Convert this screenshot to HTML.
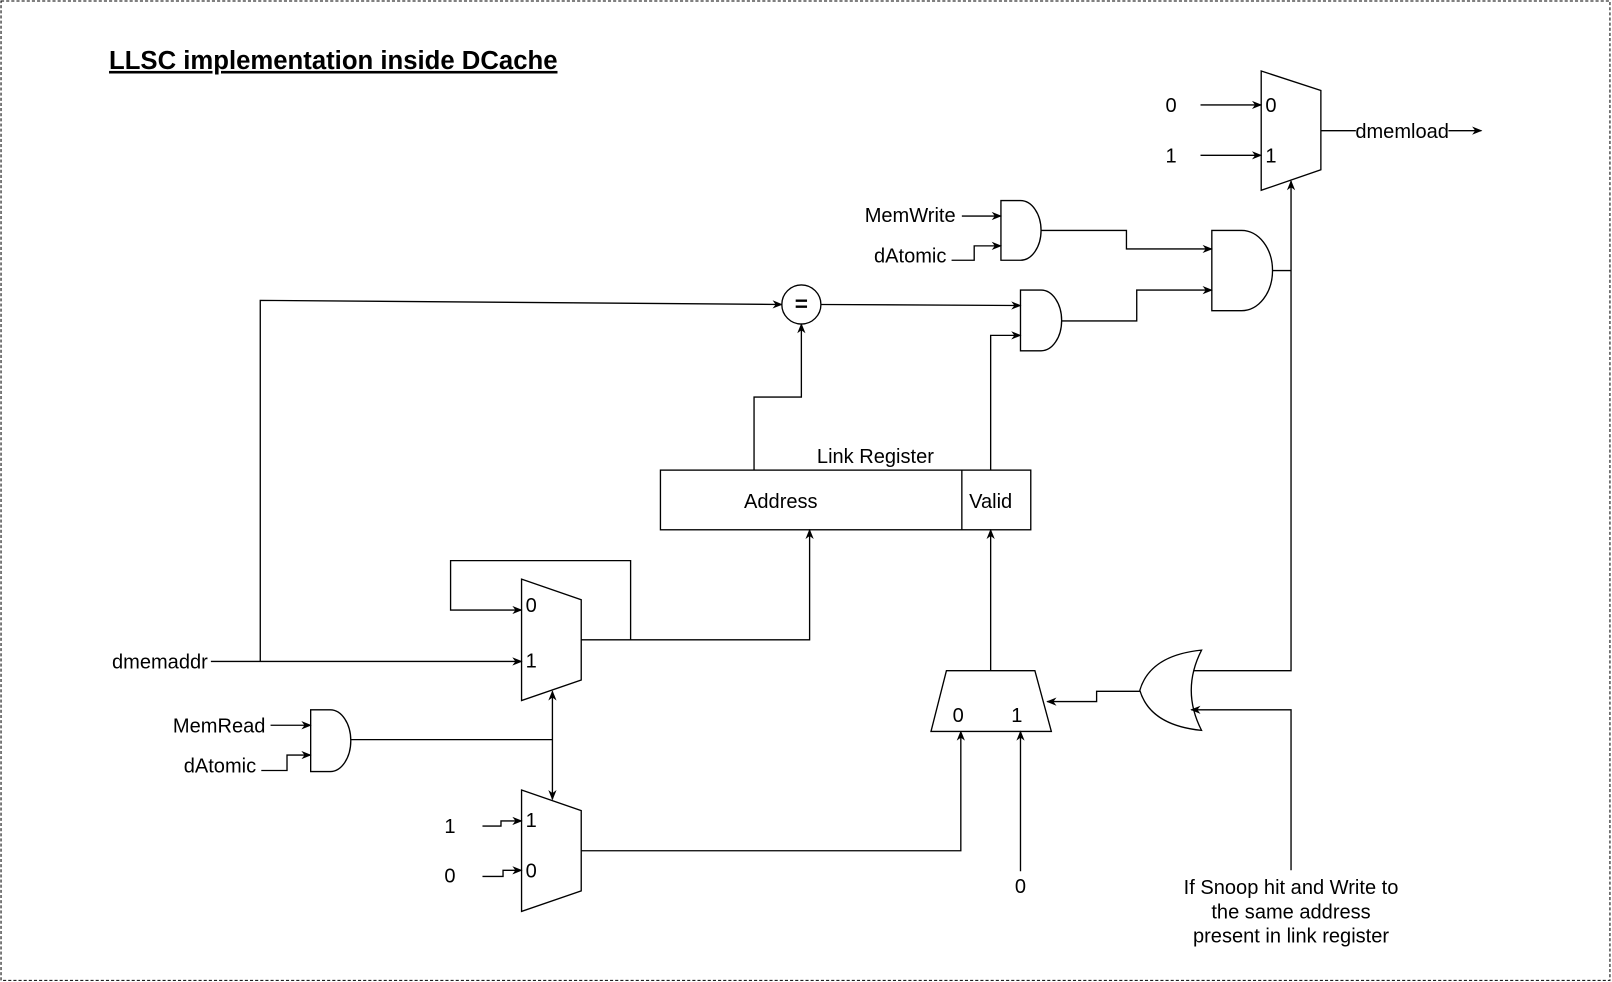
<!DOCTYPE html>
<html><head><meta charset="utf-8"><style>html,body{margin:0;padding:0;background:#fff}svg{display:block}</style></head>
<body>
<svg width="1612" height="982" viewBox="0 0 1567 954.6" preserveAspectRatio="none" xmlns="http://www.w3.org/2000/svg" font-family="Liberation Sans, Arial, sans-serif" font-size="19.5">
<defs>
<marker id="a" viewBox="0 0 10 10" refX="9" refY="5" markerWidth="10" markerHeight="10" markerUnits="userSpaceOnUse" orient="auto-start-reverse"><path d="M0,1 L10,5 L0,9 L3,5 Z" fill="#000"/></marker>
</defs>
<rect x="1" y="1" width="1564" height="952" fill="#fff" stroke="#000" stroke-dasharray="3,2" stroke-width="1"/>
<text x="106" y="67" font-size="25" font-weight="bold" text-decoration="underline">LLSC implementation inside DCache</text>
<g fill="none" stroke="#000" stroke-width="1.3">
<polygon points="1226,69 1284,88 1284,165 1226,185" fill="#fff"/>
<line x1="1167" y1="102" x2="1226" y2="102" marker-end="url(#a)"/>
<line x1="1167" y1="151" x2="1226" y2="151" marker-end="url(#a)"/>
<line x1="1284" y1="127" x2="1318" y2="127"/>
<line x1="1408" y1="127" x2="1440" y2="127" marker-end="url(#a)"/>
<polyline points="1158,652 1255,652 1255,176" marker-end="url(#a)"/>
<line x1="1237" y1="263" x2="1255" y2="263"/>
<path d="M1178,224 H1207 A30,39 0 0 1 1207,302 H1178 Z" fill="#fff"/>
<polyline points="1012,224 1095,224 1095,242 1178,242" marker-end="url(#a)"/>
<polyline points="1032,312 1105,312 1105,282 1178,282" marker-end="url(#a)"/>
<path d="M973,195 H992 A20,29 0 0 1 992,253 H973 Z" fill="#fff"/>
<line x1="935" y1="210" x2="973" y2="210" marker-end="url(#a)"/>
<polyline points="925,253 947,253 947,239 973,239" marker-end="url(#a)"/>
<path d="M992,282 H1012 A20,29.5 0 0 1 1012,341 H992 Z" fill="#fff"/>
<polyline points="798,296 992,297" marker-end="url(#a)"/>
<polyline points="963,457 963,326 992,326" marker-end="url(#a)"/>
<circle cx="779" cy="296" r="19" fill="#fff"/>
<polyline points="253,643 253,292 760,296" marker-end="url(#a)"/>
<polyline points="733,457 733,386 779,386 779,315" marker-end="url(#a)"/>
<rect x="642" y="457" width="360" height="58" fill="#fff"/>
<line x1="935" y1="457" x2="935" y2="515"/>
<polygon points="507,563 565,583 565,661 507,681" fill="#fff"/>
<polyline points="613,622 613,545 438,545 438,593 507,593" marker-end="url(#a)"/>
<polyline points="565,622 787,622 787,515" marker-end="url(#a)"/>
<line x1="205" y1="643" x2="507" y2="643" marker-end="url(#a)"/>
<line x1="537" y1="672" x2="537" y2="777" marker-start="url(#a)" marker-end="url(#a)"/>
<line x1="341" y1="719" x2="537" y2="719"/>
<path d="M302,690 H321 A20,30 0 0 1 321,750 H302 Z" fill="#fff"/>
<line x1="263" y1="705" x2="302" y2="705" marker-end="url(#a)"/>
<polyline points="254,749 279,749 279,734 302,734" marker-end="url(#a)"/>
<polygon points="507,768 565,788 565,866 507,886" fill="#fff"/>
<polyline points="469,803 487,803 487,798 507,798" marker-end="url(#a)"/>
<polyline points="469,852 489,852 489,846 507,846" marker-end="url(#a)"/>
<polyline points="565,827 934,827 934,711" marker-end="url(#a)"/>
<polygon points="920,652 1006,652 1022,711 905,711" fill="#fff"/>
<line x1="963" y1="652" x2="963" y2="515" marker-end="url(#a)"/>
<line x1="992" y1="847" x2="992" y2="711" marker-end="url(#a)"/>
<polyline points="1108,672 1066,672 1066,682 1018,682" marker-end="url(#a)"/>
<path d="M1168,632 Q1148,671 1168,710 Q1118,705 1108,671 Q1118,637 1168,632 Z" fill="#fff"/>
<polyline points="1255,846 1255,690 1158,690" marker-end="url(#a)"/>
</g>
<g fill="#000">
<text x="1230" y="109">0</text><text x="1230" y="158">1</text>
<text x="1133" y="109">0</text><text x="1133" y="158">1</text>
<text x="1363" y="134" text-anchor="middle">dmemload</text>
<text x="929" y="216" text-anchor="end">MemWrite</text>
<text x="920" y="255" text-anchor="end">dAtomic</text>
<text x="779" y="303" text-anchor="middle" font-weight="bold" font-size="22">=</text>
<text x="851" y="450" text-anchor="middle">Link Register</text>
<text x="759" y="494" text-anchor="middle">Address</text>
<text x="963" y="494" text-anchor="middle">Valid</text>
<text x="511" y="595">0</text><text x="511" y="649">1</text>
<text x="202" y="650" text-anchor="end">dmemaddr</text>
<text x="258" y="712" text-anchor="end">MemRead</text>
<text x="249" y="751" text-anchor="end">dAtomic</text>
<text x="511" y="804">1</text><text x="511" y="853">0</text>
<text x="432" y="810">1</text><text x="432" y="858">0</text>
<text x="926" y="702">0</text><text x="983" y="702">1</text>
<text x="992" y="868" text-anchor="middle">0</text>
<text x="1255" y="869" text-anchor="middle">If Snoop hit and Write to</text>
<text x="1255" y="893" text-anchor="middle">the same address</text>
<text x="1255" y="916" text-anchor="middle">present in link register</text>
</g>
</svg>
</body></html>
